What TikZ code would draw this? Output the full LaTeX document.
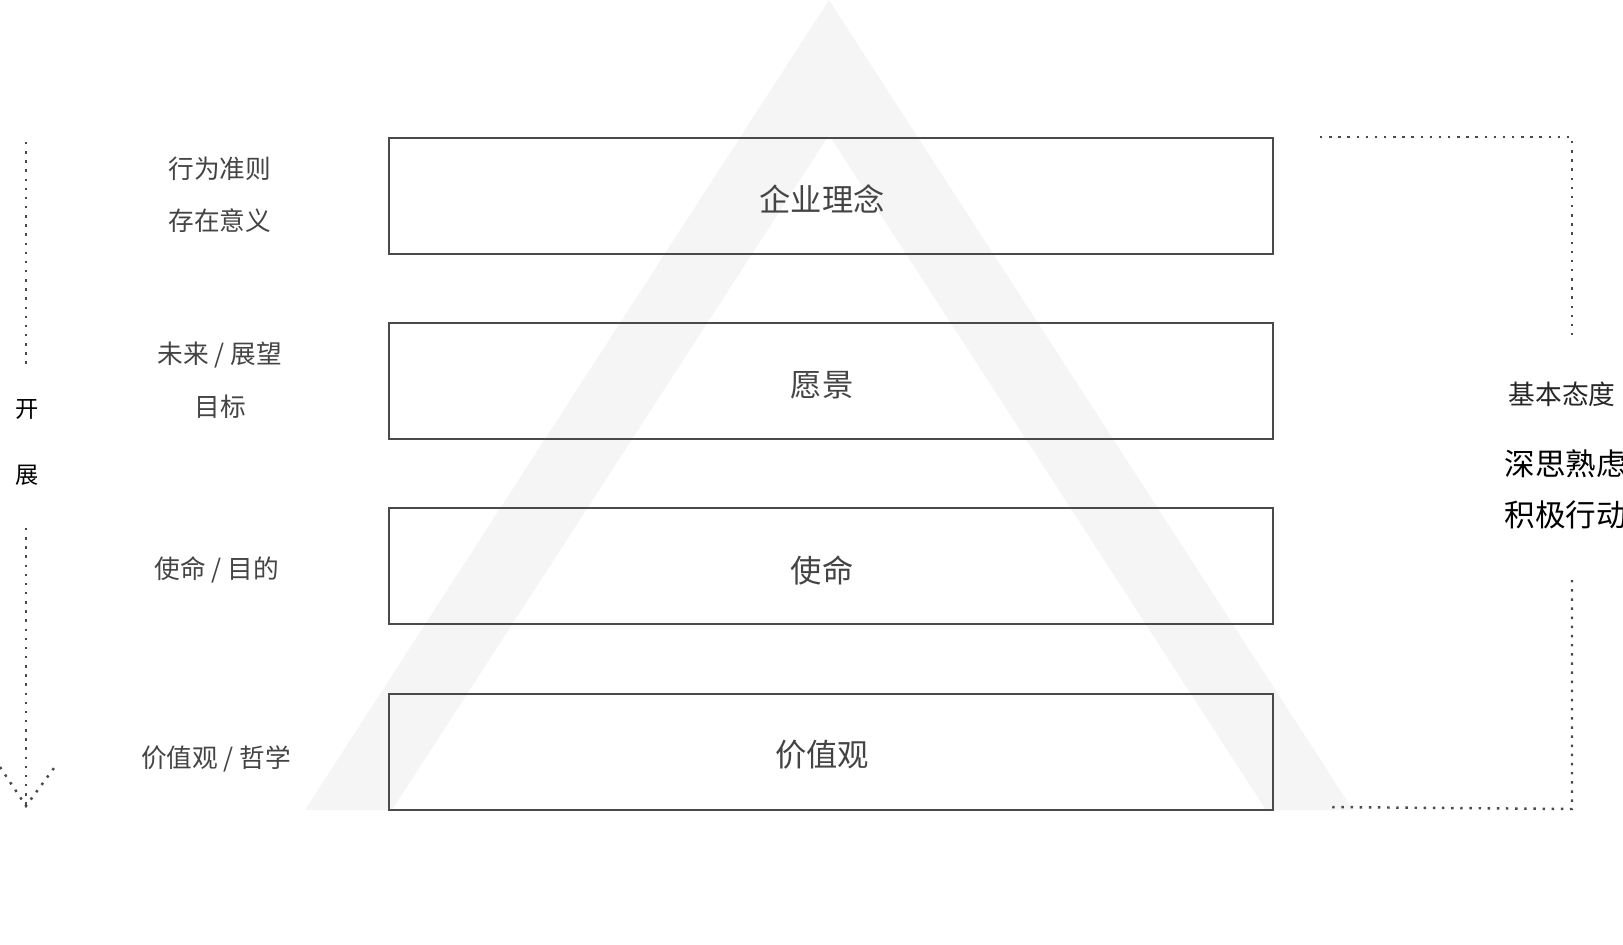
\documentclass[tikz,border=0pt]{standalone}
\usepackage{fontspec}
\setmainfont{Noto Sans CJK SC}
\definecolor{textgray}{HTML}{444444}
\definecolor{linegray}{HTML}{4A4A4A}
\definecolor{trigray}{HTML}{F5F5F5}
\tikzset{
  layer/.style={draw=linegray,line width=0.6pt,minimum width=8.84cm,minimum height=1.16cm,inner sep=0pt},
  layertext/.style={inner sep=0pt,text=textgray,font=\fontsize{8.9pt}{10pt}\selectfont},
  side/.style={inner sep=0pt,text=textgray,font=\fontsize{7.3pt}{9pt}\selectfont},
  dots/.style={draw=linegray,line width=0.7pt,dash pattern=on 0.7pt off 1.9pt}
}
\begin{document}
\begin{tikzpicture}[x=0.01cm,y=-0.01cm]
  \useasboundingbox (0,0) rectangle (1623,945);
  \fill[trigray,even odd rule]
    (829,0) -- (305,810) -- (1353,810) -- cycle
    (829,135) -- (392,810) -- (1266,810) -- cycle;
  \draw
    (831,196) node[layer] (idea){}
    (831,381) node[layer] (vision){}
    (831,566) node[layer] (mission){}
    (831,752) node[layer] (values){};
  \draw
    ([shift={(-9,3)}]idea.center) node[layertext] (ideatext){企业理念}
    ([shift={(-9,4)}]vision.center) node[layertext] (visiontext){愿景}
    ([shift={(-9,4)}]mission.center) node[layertext] (missiontext){使命}
    ([shift={(-9,3)}]values.center) node[layertext] (valuestext){价值观};
  \draw
    (220,169) node[side] (conduct){行为准则}
    (220,221) node[side] (meaning){存在意义}
    (220,355) node[side] (future){未来 / 展望}
    (220,407) node[side] (goal){目标}
    (217,570) node[side] (purpose){使命 / 目的}
    (216,759) node[side] (philo){价值观 / 哲学};
  \draw
    (27,409) node[side,text=black,font=\fontsize{6.6pt}{8pt}\selectfont] (kai){开}
    (27,475) node[side,text=black,font=\fontsize{6.6pt}{8pt}\selectfont] (zhan){展}
    (1508,394) node[side,anchor=west,text=black!85,font=\fontsize{7.6pt}{9pt}\selectfont] (attitude){基本态度}
    (1504,464) node[side,anchor=west,text=black,font=\fontsize{8.7pt}{10pt}\selectfont] (think){深思熟虑}
    (1504,515) node[side,anchor=west,text=black,font=\fontsize{8.7pt}{10pt}\selectfont] (act){积极行动};
  \coordinate (flowtop) at (26,142);
  \coordinate (flowmid) at (26,370);
  \coordinate (flowlow) at (26,528);
  \coordinate (flowtip) at (26,806);
  \coordinate (tipleft) at (0,767);
  \coordinate (tipright) at (54,768);
  \coordinate (brtl) at (1320,137);
  \coordinate (brtr) at (1572,137);
  \coordinate (brmid) at (1572,337);
  \coordinate (brlow) at (1572,580);
  \coordinate (brbr) at (1572,809);
  \coordinate (brbl) at (1326,807);
  \begin{scope}[dots]
    \draw (flowtop) to (flowmid);
    \draw (flowlow) to (flowtip);
    \draw (tipleft) -- (flowtip) -- (tipright);
    \draw (brtl) -- (brtr) -- (brmid);
    \draw (brlow) -- (brbr) -- (brbl);
  \end{scope}
\end{tikzpicture}
\end{document}
